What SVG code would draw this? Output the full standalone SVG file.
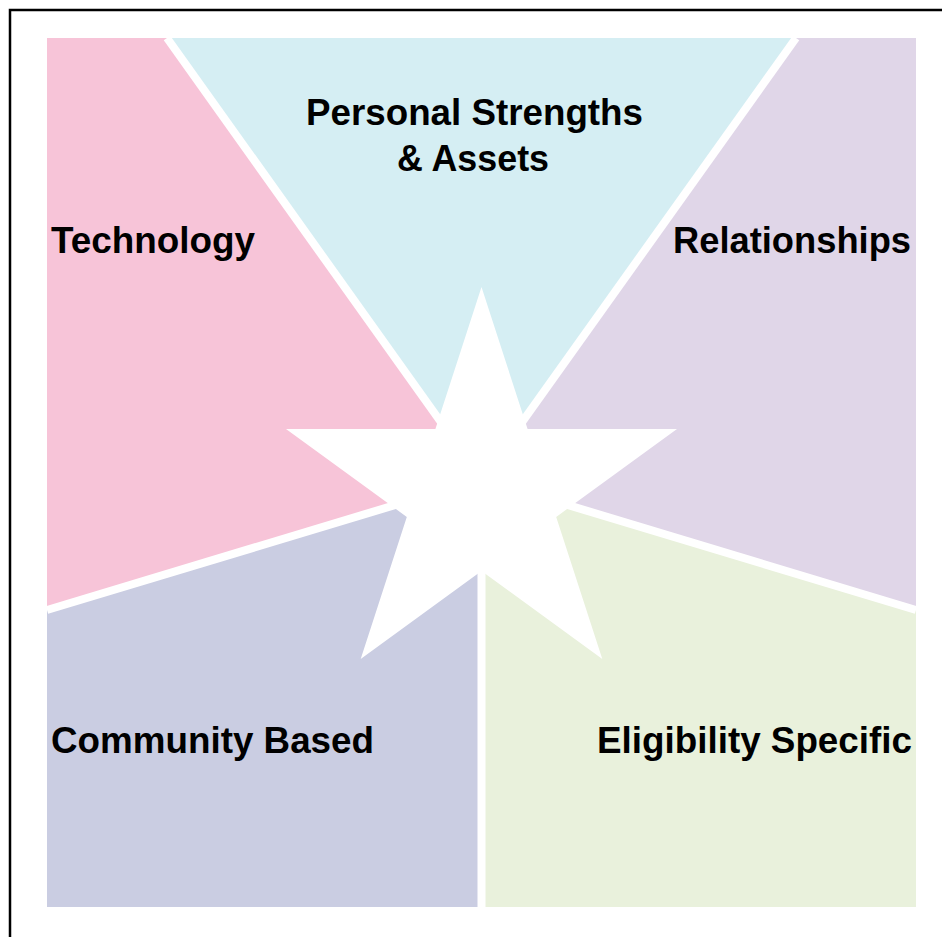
<svg xmlns="http://www.w3.org/2000/svg" width="942" height="937" viewBox="0 0 942 937">
  <style>
    .lbl { font-family: "Liberation Sans", Arial, sans-serif; font-weight: bold; font-size: 36px; fill: #000000; }
    .sep { stroke: #ffffff; stroke-width: 8; fill: none; }
  </style>
  <rect x="0" y="0" width="942" height="937" fill="#ffffff"/>
  <path d="M10,937 V10 H942" fill="none" stroke="#000000" stroke-width="2.5"/>

  <g id="technology">
    <polygon points="47,38 167,38 481.5,479 47,610" fill="#F7C4D8"/>
    <text class="lbl" x="51" y="253" textLength="204" lengthAdjust="spacingAndGlyphs">Technology</text>
  </g>
  <g id="personal-strengths">
    <polygon points="167,38 796,38 481.5,479" fill="#D5EEF3"/>
    <text class="lbl" x="306" y="125" textLength="337" lengthAdjust="spacingAndGlyphs">Personal Strengths</text>
    <text class="lbl" x="397" y="171" textLength="152" lengthAdjust="spacingAndGlyphs">&amp; Assets</text>
  </g>
  <g id="relationships">
    <polygon points="796,38 916,38 916,610 481.5,479" fill="#E0D6E8"/>
    <text class="lbl" x="673" y="253" textLength="238" lengthAdjust="spacingAndGlyphs">Relationships</text>
  </g>
  <g id="eligibility-specific">
    <polygon points="916,610 916,907 481.5,907 481.5,479" fill="#E9F1DC"/>
    <text class="lbl" x="597" y="753" textLength="315" lengthAdjust="spacingAndGlyphs">Eligibility Specific</text>
  </g>
  <g id="community-based">
    <polygon points="481.5,907 47,907 47,610 481.5,479" fill="#CACDE2"/>
    <text class="lbl" x="51" y="753" textLength="323" lengthAdjust="spacingAndGlyphs">Community Based</text>
  </g>

  <g id="separators">
    <line class="sep" x1="481.5" y1="479" x2="167" y2="38"/>
    <line class="sep" x1="481.5" y1="479" x2="796" y2="38"/>
    <line class="sep" x1="481.5" y1="479" x2="47" y2="610"/>
    <line class="sep" x1="481.5" y1="479" x2="916" y2="610"/>
    <line class="sep" x1="481.5" y1="479" x2="481.5" y2="907"/>
  </g>

  <g id="star">
    <polygon points="481.5,287 527.6,429.1 677,429.1 556.2,516.9 602.3,658.9 481.5,571.1 360.7,658.9 406.8,516.9 286,429.1 435.4,429.1" fill="#ffffff"/>
  </g>
</svg>
